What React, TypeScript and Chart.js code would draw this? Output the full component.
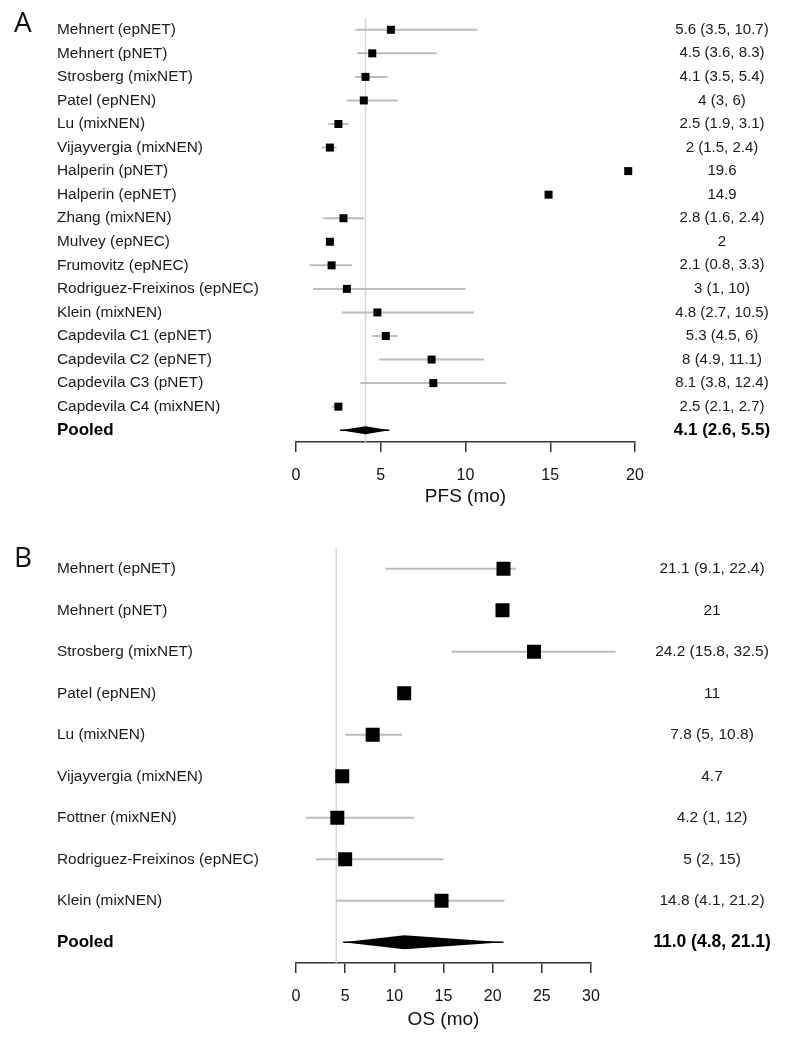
import React, { useEffect, useRef } from "react";
import { Chart, registerables } from "chart.js";

Chart.register(...registerables);

const FONT = '"Liberation Sans", Arial, Helvetica, sans-serif';
Chart.defaults.font.family = FONT;
Chart.defaults.color = "#1a1a1a";

// ---------- Panel A: PFS ----------
const pfsStudies = [
  "Mehnert (epNET)",
  "Mehnert (pNET)",
  "Strosberg (mixNET)",
  "Patel (epNEN)",
  "Lu (mixNEN)",
  "Vijayvergia (mixNEN)",
  "Halperin (pNET)",
  "Halperin (epNET)",
  "Zhang (mixNEN)",
  "Mulvey (epNEC)",
  "Frumovitz (epNEC)",
  "Rodriguez-Freixinos (epNEC)",
  "Klein (mixNEN)",
  "Capdevila C1 (epNET)",
  "Capdevila C2 (epNET)",
  "Capdevila C3 (pNET)",
  "Capdevila C4 (mixNEN)",
];
const pfsEstimate = [5.6, 4.5, 4.1, 4, 2.5, 2, 19.6, 14.9, 2.8, 2, 2.1, 3, 4.8, 5.3, 8, 8.1, 2.5];
const pfsLower = [3.5, 3.6, 3.5, 3, 1.9, 1.5, null, null, 1.6, null, 0.8, 1, 2.7, 4.5, 4.9, 3.8, 2.1];
const pfsUpper = [10.7, 8.3, 5.4, 6, 3.1, 2.4, null, null, 4.0, null, 3.3, 10, 10.5, 6, 11.1, 12.4, 2.7];
const pfsText = [
  "5.6 (3.5, 10.7)",
  "4.5 (3.6, 8.3)",
  "4.1 (3.5, 5.4)",
  "4 (3, 6)",
  "2.5 (1.9, 3.1)",
  "2 (1.5, 2.4)",
  "19.6",
  "14.9",
  "2.8 (1.6, 2.4)",
  "2",
  "2.1 (0.8, 3.3)",
  "3 (1, 10)",
  "4.8 (2.7, 10.5)",
  "5.3 (4.5, 6)",
  "8 (4.9, 11.1)",
  "8.1 (3.8, 12.4)",
  "2.5 (2.1, 2.7)",
];
const pfsPooled = [4.1, 2.6, 5.5]; // estimate, lower, upper
const pfsPooledText = "4.1 (2.6, 5.5)";
const pfsTicks = [0, 5, 10, 15, 20];
const pfsReference = 4.1;

// ---------- Panel B: OS ----------
const osStudies = [
  "Mehnert (epNET)",
  "Mehnert (pNET)",
  "Strosberg (mixNET)",
  "Patel (epNEN)",
  "Lu (mixNEN)",
  "Vijayvergia (mixNEN)",
  "Fottner (mixNEN)",
  "Rodriguez-Freixinos (epNEC)",
  "Klein (mixNEN)",
];
const osEstimate = [21.1, 21, 24.2, 11, 7.8, 4.7, 4.2, 5, 14.8];
const osLower = [9.1, null, 15.8, null, 5, null, 1, 2, 4.1];
const osUpper = [22.4, null, 32.5, null, 10.8, null, 12, 15, 21.2];
const osText = [
  "21.1 (9.1, 22.4)",
  "21",
  "24.2 (15.8, 32.5)",
  "11",
  "7.8 (5, 10.8)",
  "4.7",
  "4.2 (1, 12)",
  "5 (2, 15)",
  "14.8 (4.1, 21.2)",
];
const osPooled = [11.0, 4.8, 21.1];
const osPooledText = "11.0 (4.8, 21.1)";
const osTicks = [0, 5, 10, 15, 20, 25, 30];
const osReference = 4.1;

type PanelProps = {
  letter: string;
  studies: string[];
  est: number[];
  lo: (number | null)[];
  hi: (number | null)[];
  texts: string[];
  pooled: number[];
  pooledText: string;
  refValue: number;
  ticks: number[];
  axisTitle: string;
  top: number;
  height: number;
  padTop: number;
  padRight: number;
  axisH: number;
  boxSide: number;
  diamondHalf: number;
  textX: number;
  textSize: number;
  pooledSize: number;
  letterY: number;
};

function ForestPanel(p: PanelProps) {
  const ref = useRef<HTMLCanvasElement>(null);
  useEffect(() => {
    if (!ref.current) return;
    const names = [...p.studies, "Pooled"];
    const n = names.length;
    const points = p.est.map((v, i) => ({ x: v, y: i }));
    const ci: any[] = [];
    p.lo.forEach((l, i) => {
      const h = p.hi[i];
      if (l != null && h != null) {
        ci.push({ x: l, y: i }, { x: h, y: i }, { x: null, y: null });
      }
    });
    const pooledLine = [
      { x: p.pooled[1], y: n - 1 },
      { x: p.pooled[2], y: n - 1 },
    ];
    const refLine = [
      { x: p.refValue, y: -0.5 },
      { x: p.refValue, y: n - 0.5 },
    ];
    const xMin = p.ticks[0];
    const xMax = p.ticks[p.ticks.length - 1];

    const extras = {
      id: "forestExtras",
      afterDatasetsDraw(chart: any) {
        const { ctx, scales } = chart;
        const x = scales.x;
        const y = scales.y;
        const yc = y.getPixelForValue(n - 1);
        ctx.save();
        ctx.fillStyle = "#000";
        ctx.beginPath();
        ctx.moveTo(x.getPixelForValue(p.pooled[1]), yc);
        ctx.lineTo(x.getPixelForValue(p.pooled[0]), yc - p.diamondHalf);
        ctx.lineTo(x.getPixelForValue(p.pooled[2]), yc);
        ctx.lineTo(x.getPixelForValue(p.pooled[0]), yc + p.diamondHalf);
        ctx.closePath();
        ctx.fill();

        ctx.textAlign = "center";
        ctx.textBaseline = "middle";
        ctx.fillStyle = "#1a1a1a";
        ctx.font = `${p.textSize}px ${FONT}`;
        p.texts.forEach((t, i) => {
          ctx.fillText(t, p.textX, y.getPixelForValue(i));
        });
        ctx.font = `bold ${p.pooledSize}px ${FONT}`;
        ctx.fillStyle = "#000";
        ctx.fillText(p.pooledText, p.textX, yc);

        ctx.textAlign = "left";
        ctx.textBaseline = "alphabetic";
        ctx.font = `28px "Open Sans", ${FONT}`;
        ctx.fillStyle = "#111";
        ctx.fillText(p.letter, 14, p.letterY);
        ctx.restore();
      },
    };

    const chart = new Chart(ref.current, {
      type: "scatter",
      data: {
        datasets: [
          {
            data: points,
            pointStyle: "rect",
            pointRadius: p.boxSide / (2 * Math.SQRT1_2),
            pointHoverRadius: p.boxSide / (2 * Math.SQRT1_2),
            backgroundColor: "#000",
            borderColor: "#000",
            borderWidth: 0,
            showLine: false,
            clip: false,
            order: 0,
          },
          {
            data: ci,
            showLine: true,
            spanGaps: false,
            borderColor: "#bdbdbd",
            borderWidth: 2,
            pointRadius: 0,
            clip: false,
            order: 1,
          },
          {
            data: pooledLine,
            showLine: true,
            borderColor: "#000",
            borderWidth: 1.5,
            pointRadius: 0,
            clip: false,
            order: 1,
          },
          {
            data: refLine,
            showLine: true,
            borderColor: "#d6d6d6",
            borderWidth: 1.5,
            pointRadius: 0,
            clip: false,
            order: 2,
          },
        ],
      } as any,
      options: {
        animation: false,
        responsive: false,
        devicePixelRatio: 1,
        events: [],
        layout: {
          padding: { left: 57, right: p.padRight, top: p.padTop, bottom: 0 },
        },
        plugins: {
          legend: { display: false },
          tooltip: { enabled: false },
        },
        scales: {
          x: {
            type: "linear",
            min: xMin,
            max: xMax,
            afterBuildTicks: (s: any) => {
              s.ticks = p.ticks.map((v) => ({ value: v }));
            },
            afterFit: (s: any) => {
              s.height = p.axisH;
              s.paddingLeft = 0;
              s.paddingRight = 0;
            },
            ticks: {
              color: "#111",
              font: { size: 16 },
              padding: 14,
              maxRotation: 0,
              autoSkip: false,
            },
            grid: {
              drawOnChartArea: false,
              drawTicks: true,
              tickLength: 10,
              color: "#333",
              lineWidth: 1.5,
            },
            border: { display: true, color: "#333", width: 1.5 },
            title: {
              display: true,
              text: p.axisTitle,
              color: "#111",
              font: { size: 19 },
              padding: { top: 0, bottom: 4 },
            },
          },
          y: {
            type: "linear",
            reverse: true,
            min: -0.5,
            max: n - 0.5,
            afterBuildTicks: (s: any) => {
              s.ticks = names.map((_, i) => ({ value: i }));
            },
            afterFit: (s: any) => {
              s.width = 296 - 57;
              s.paddingTop = 0;
              s.paddingBottom = 0;
            },
            ticks: {
              autoSkip: false,
              crossAlign: "far",
              padding: 0,
              color: (c: any) => (c.index === n - 1 ? "#000" : "#1a1a1a"),
              font: (c: any) =>
                c.index === n - 1 ? { size: 17, weight: "bold" } : { size: 15.4 },
              callback: (v: any) => names[Math.round(v)] ?? "",
            },
            grid: { display: false },
            border: { display: false },
          },
        },
      } as any,
      plugins: [extras],
    });
    return () => chart.destroy();
  }, []);

  return (
    <canvas
      ref={ref}
      width={791}
      height={p.height}
      style={{
        position: "absolute",
        left: 0,
        top: p.top,
        width: 791,
        height: p.height,
      }}
    />
  );
}

export default function App() {
  return (
    <div
      style={{
        position: "absolute",
        left: 0,
        top: 0,
        width: 791,
        height: 1041,
        background: "#fff",
        overflow: "hidden",
      }}
    >
      <ForestPanel
        letter="A"
        studies={pfsStudies}
        est={pfsEstimate}
        lo={pfsLower}
        hi={pfsUpper}
        texts={pfsText}
        pooled={pfsPooled}
        pooledText={pfsPooledText}
        refValue={pfsReference}
        ticks={pfsTicks}
        axisTitle="PFS (mo)"
        top={0}
        height={512}
        padTop={18}
        padRight={791 - 635}
        axisH={70}
        boxSide={8}
        diamondHalf={4}
        textX={722}
        textSize={15}
        pooledSize={17}
        letterY={32}
      />
      <ForestPanel
        letter="B"
        studies={osStudies}
        est={osEstimate}
        lo={osLower}
        hi={osUpper}
        texts={osText}
        pooled={osPooled}
        pooledText={osPooledText}
        refValue={osReference}
        ticks={osTicks}
        axisTitle="OS (mo)"
        top={520}
        height={515}
        padTop={28}
        padRight={791 - 591}
        axisH={72}
        boxSide={14}
        diamondHalf={7}
        textX={712}
        textSize={15.5}
        pooledSize={17.5}
        letterY={47}
      />
    </div>
  );
}
